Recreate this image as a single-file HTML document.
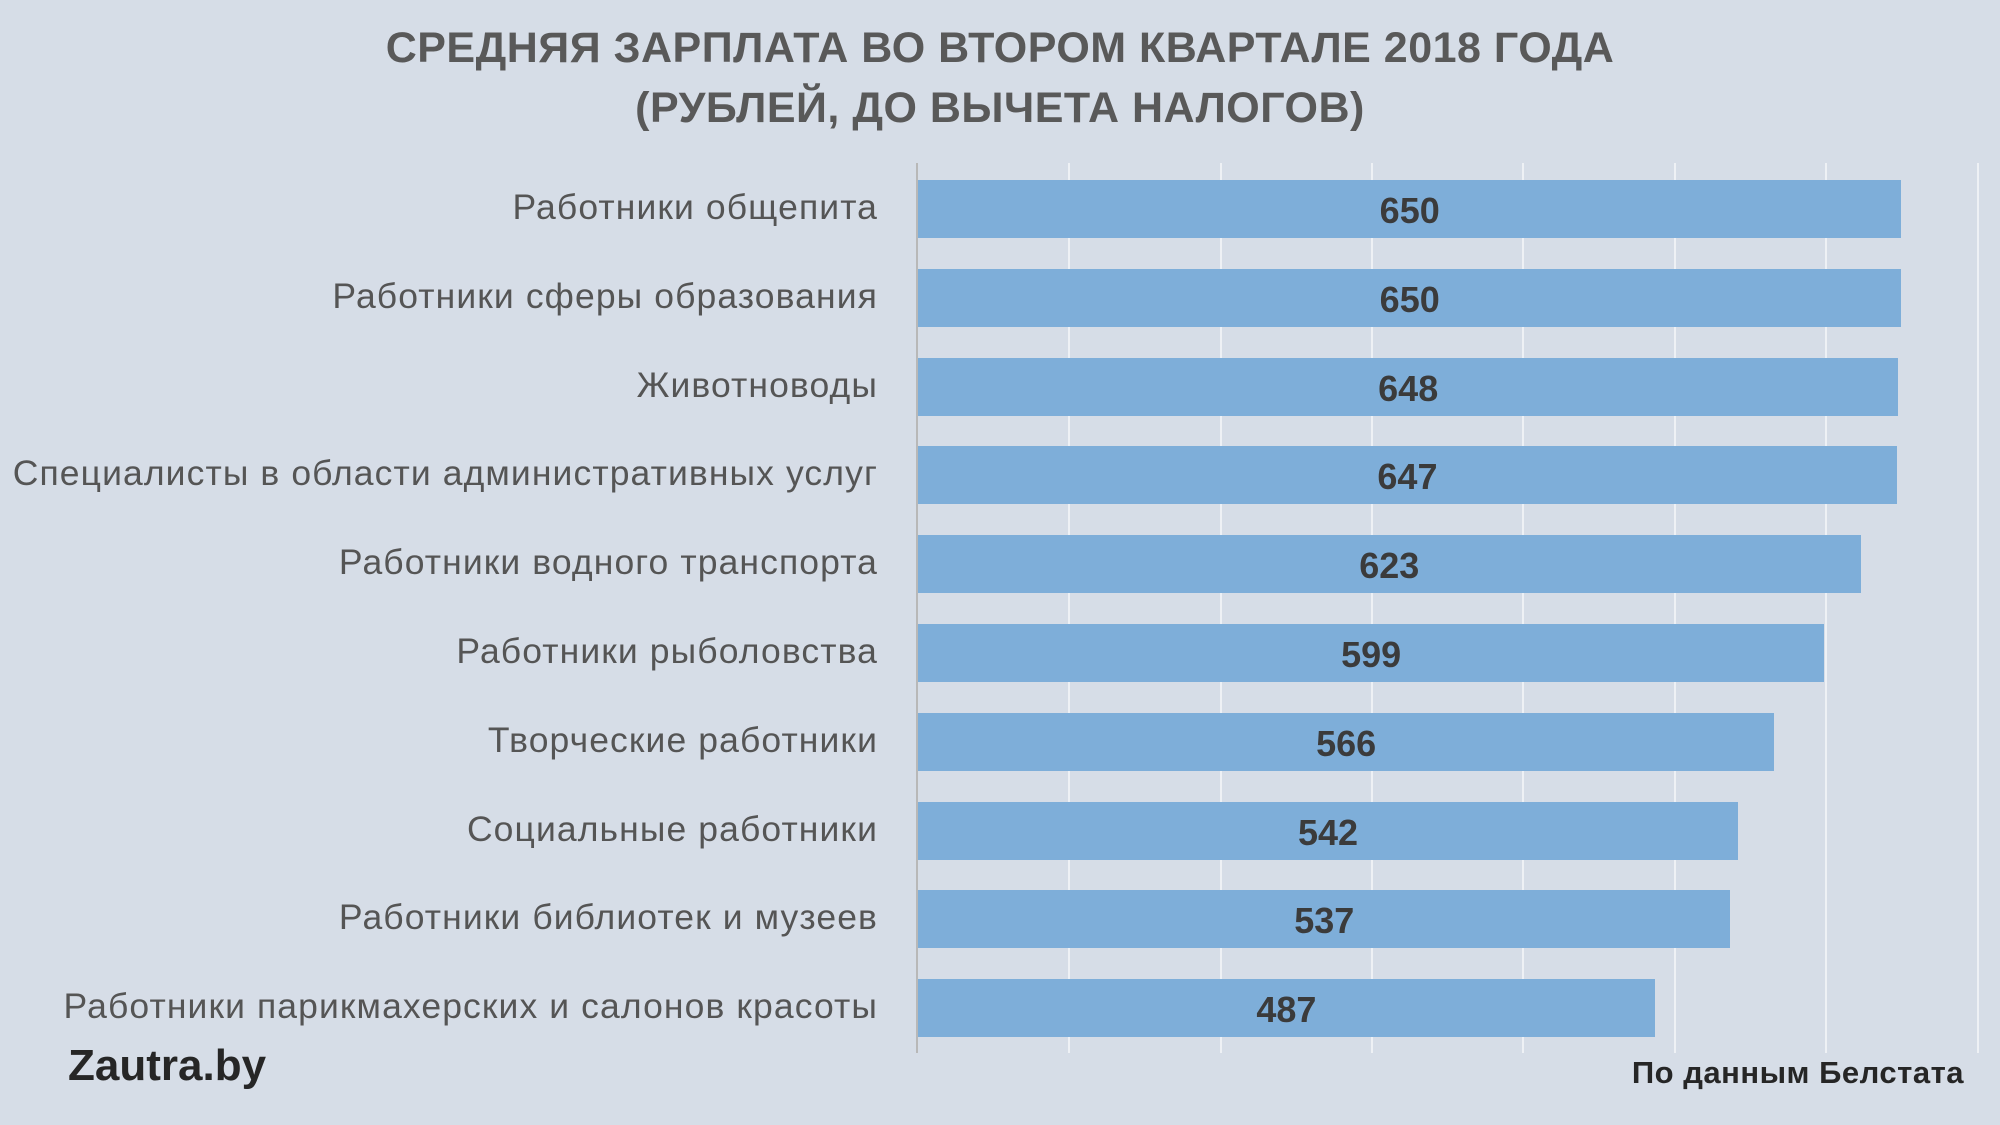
<!DOCTYPE html>
<html><head><meta charset="utf-8"><style>
body{margin:0;width:2000px;height:1125px;background:#d6dde7;overflow:hidden;font-family:"Liberation Sans","DejaVu Sans",sans-serif;position:relative}
.t{position:absolute;left:0;width:2000px;text-align:center;font-weight:bold;color:#595959;font-size:43px;letter-spacing:0.5px}
.g{position:absolute;top:163px;height:890px;width:2px;background:#eef1f5}
.bar{position:absolute;left:918px;height:58px;background:#7eaed9}
.v{position:absolute;font-weight:bold;color:#3b3b3b;font-size:36px;line-height:58px;width:100px;text-align:center}
.l{position:absolute;right:1122px;color:#555;font-size:35.5px;letter-spacing:1.1px;line-height:58px;white-space:nowrap}
</style></head><body>
<div class="t" style="top:24px">СРЕДНЯЯ ЗАРПЛАТА ВО ВТОРОМ КВАРТАЛЕ 2018 ГОДА</div>
<div class="t" style="top:84px">(РУБЛЕЙ, ДО ВЫЧЕТА НАЛОГОВ)</div>
<div style="position:absolute;left:916px;top:163px;width:2px;height:890px;background:#b8b8b8"></div>
<div class="g" style="left:1068px"></div><div class="g" style="left:1220px"></div><div class="g" style="left:1371px"></div><div class="g" style="left:1522px"></div><div class="g" style="left:1674px"></div><div class="g" style="left:1825px"></div><div class="g" style="left:1977px"></div>
<div id="c"></div>
<div style="position:absolute;left:68px;top:1041px;font-size:44px;font-weight:bold;color:#262626">Zautra.by</div>
<div style="position:absolute;right:36px;top:1055px;font-size:31px;font-weight:bold;color:#262626;letter-spacing:0.5px">По данным Белстата</div>
<script>
var d=[["Работники общепита",650],["Работники сферы образования",650],["Животноводы",648],["Специалисты в области административных услуг",647],["Работники водного транспорта",623],["Работники рыболовства",599],["Творческие работники",566],["Социальные работники",542],["Работники библиотек и музеев",537],["Работники парикмахерских и салонов красоты",487]];
var h="";d.forEach(function(r,i){var y=180+i*88.8,w=r[1]*1.513;
h+='<div class="bar" style="top:'+y+'px;width:'+w+'px"></div><div class="v" style="top:'+(y+2)+'px;left:'+(918+w/2-50)+'px">'+r[1]+'</div><div class="l" style="top:'+(y-2)+'px">'+r[0]+'</div>';});
document.getElementById("c").innerHTML=h;
</script>
</body></html>
